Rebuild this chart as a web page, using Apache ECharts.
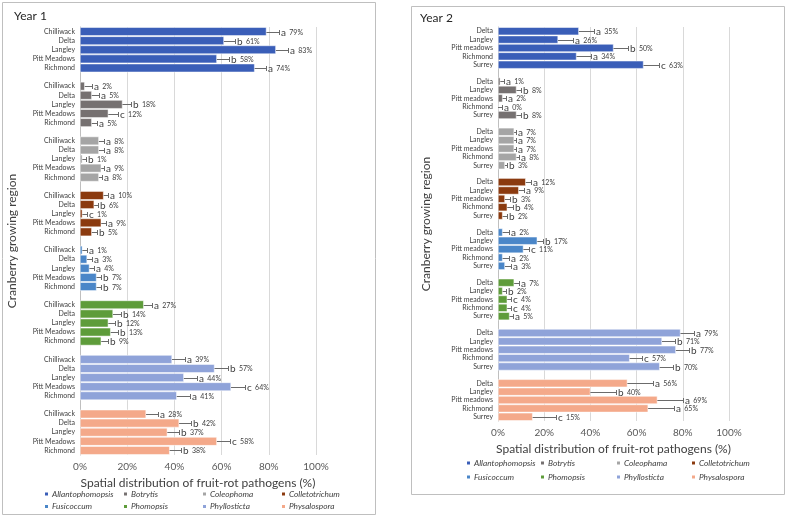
<!DOCTYPE html>
<html><head><meta charset="utf-8">
<script src="https://cdn.jsdelivr.net/npm/echarts@6/dist/echarts.min.js"></script>
<style>html,body{margin:0;padding:0;background:#fff}#c{width:787px;height:519px}</style>
</head><body><div id="c"></div>
<script>
// ---------- DATA ----------
const regionsY1 = ['Chilliwack', 'Delta', 'Langley', 'Pitt Meadows', 'Richmond'];
const regionsY2 = ['Delta', 'Langley', 'Pitt meadows', 'Richmond', 'Surrey'];
const pathogensY1 = ['Allantophomopsis', 'Botrytis', 'Coleophoma', 'Colletotrichum', 'Fusicoccum', 'Phomopsis', 'Phyllosticta', 'Physalospora'];
const pathogensY2 = ['Allantophomopsis', 'Botrytis', 'Coleophama', 'Colletotrichum', 'Fusicoccum', 'Phomopsis', 'Phyllosticta', 'Physalospora'];
const xTicks = [0, 20, 40, 60, 80, 100];

// Year 1 values (%), error (+), letters
const y1Values = [
  [79, 61, 83, 58, 74],
  [2, 5, 18, 12, 5],
  [8, 8, 1, 9, 8],
  [10, 6, 1, 9, 5],
  [1, 3, 4, 7, 7],
  [27, 14, 12, 13, 9],
  [39, 57, 44, 64, 41],
  [28, 42, 37, 58, 38]
];
const y1Errors = [
  [5.5, 4.7, 5, 5, 5],
  [3, 3, 3.5, 4, 2],
  [2, 2, 1.5, 1, 1.5],
  [1.7, 1.5, 2, 2, 2],
  [2, 2, 2, 1.7, 1.7],
  [3.5, 3.5, 3, 3, 3],
  [5.5, 5.5, 5.6, 5.8, 5.6],
  [5, 5, 5, 5.5, 5]
];
const y1Letters = [
  ['a', 'b', 'a', 'b', 'a'],
  ['a', 'a', 'b', 'c', 'a'],
  ['a', 'a', 'b', 'a', 'a'],
  ['a', 'b', 'c', 'a', 'b'],
  ['a', 'a', 'a', 'b', 'b'],
  ['a', 'b', 'b', 'b', 'b'],
  ['a', 'b', 'a', 'c', 'a'],
  ['a', 'b', 'b', 'c', 'b']
];

// Year 2 values (%), error (+), letters
const y2Values = [
  [35, 26, 50, 34, 63],
  [1, 8, 2, 0, 8],
  [7, 7, 7, 8, 3],
  [12, 9, 3, 4, 2],
  [2, 17, 11, 2, 3],
  [7, 2, 4, 4, 5],
  [79, 71, 77, 57, 70],
  [56, 40, 69, 65, 15]
];
const y2Errors = [
  [6.5, 6.5, 6.4, 6.4, 6.8],
  [1.6, 2, 1.5, 1.7, 2],
  [1, 1, 0.8, 0.9, 0.8],
  [2.3, 2.2, 2.3, 2.3, 1.9],
  [2.7, 2.6, 2.6, 2.7, 2.6],
  [2.3, 1.4, 1.7, 1.7, 1.7],
  [5.7, 5.6, 5.7, 5.4, 5.8],
  [11, 11, 11, 11, 10]
];
const y2Letters = [
  ['a', 'a', 'b', 'a', 'c'],
  ['a', 'b', 'a', 'a', 'b'],
  ['a', 'a', 'a', 'a', 'b'],
  ['a', 'a', 'b', 'b', 'b'],
  ['a', 'b', 'c', 'a', 'a'],
  ['a', 'b', 'c', 'c', 'a'],
  ['a', 'b', 'b', 'c', 'b'],
  ['a', 'b', 'a', 'a', 'c']
];

const colors = ['#3A5EB8', '#767171', '#A5A5A5', '#8B3A0F', '#4A86C8', '#5E9C3A', '#8FA3D9', '#F4A98A'];

// ---------- BUILD ----------
const FONT = 'Lato';
function buildCats(regions) {
  const cats = [];
  for (let g = 0; g < 8; g++) {
    regions.forEach(r => cats.push(r));
    if (g < 7) cats.push('');
  }
  return cats;
}
const catsY1 = buildCats(regionsY1);
const catsY2 = buildCats(regionsY2);

function barSeries(names, values, gi, stack) {
  return names.map((n, g) => {
    const d = new Array(47).fill('-');
    values[g].forEach((v, k) => { d[g * 6 + k] = v; });
    return {
      type: 'bar', name: n, stack: stack, xAxisIndex: gi, yAxisIndex: gi,
      data: d, barCategoryGap: '6%', itemStyle: { color: colors[g], borderColor: '#fff', borderWidth: 0.5 },
      silent: true
    };
  });
}
function errSeries(values, errors, letters, gi) {
  const data = [], labs = [];
  values.forEach((arr, g) => arr.forEach((v, k) => {
    data.push([v, g * 6 + k, errors[g][k]]);
    labs.push([letters[g][k], Math.round(v) + '%']);
  }));
  return {
    type: 'custom', xAxisIndex: gi, yAxisIndex: gi, silent: true, z: 5,
    encode: { x: 0, y: 1 },
    data: data,
    renderItem: function (params, api) {
      const v = api.value(0), c = api.value(1), e = api.value(2);
      const p0 = api.coord([v, c]), p1 = api.coord([v + e, c]);
      const y = Math.round(p0[1]) + 0.5;
      const xe = Math.round(p1[0]) + 0.5;
      const lab = labs[params.dataIndex];
      return {
        type: 'group', children: [
          { type: 'line', shape: { x1: p0[0], y1: y, x2: xe, y2: y }, style: { stroke: '#6b6b6b', lineWidth: 1 } },
          { type: 'line', shape: { x1: xe, y1: y - 2.5, x2: xe, y2: y + 2.5 }, style: { stroke: '#6b6b6b', lineWidth: 1 } },
          { type: 'text', x: xe + 1.5, y: y, style: {
              text: '{l|' + lab[0] + '} {p|' + lab[1] + '}', verticalAlign: 'middle', align: 'left',
              rich: { l: { fontSize: 10, fontFamily: FONT, fill: '#404040' }, p: { fontSize: 7, fontFamily: FONT, fill: '#404040' } }
          } }
        ]
      };
    }
  };
}

const grids = [
  { left: 80, width: 236, top: 27, height: 428 },
  { left: 498, width: 231, top: 27, height: 394 }
];
function xAxis(gi, gap) {
  return {
    type: 'value', gridIndex: gi, min: 0, max: 100, interval: 20,
    name: 'Spatial distribution of fruit-rot pathogens (%)', nameLocation: 'middle', nameGap: gap,
    nameTextStyle: { fontSize: 12, fontFamily: FONT, color: '#404040' },
    axisLabel: { formatter: v => xTicks.includes(v) ? v + '%' : '', fontSize: 10, fontFamily: FONT, color: '#595959', margin: 7 },
    axisLine: { show: false }, axisTick: { show: false },
    splitLine: { lineStyle: { color: '#d9d9d9', width: 1 } }
  };
}
function yAxis(gi, cats, gap) {
  return {
    type: 'category', gridIndex: gi, data: cats, inverse: true,
    name: 'Cranberry growing region', nameLocation: 'middle', nameGap: gap, nameRotate: 90,
    nameTextStyle: { fontSize: 12, fontFamily: FONT, color: '#404040' },
    axisLabel: { fontSize: 7, fontFamily: FONT, color: '#404040', margin: 5, interval: 0 },
    axisLine: { show: true, lineStyle: { color: '#bfbfbf' } }, axisTick: { show: false }
  };
}

function legends(names, cols, rows) {
  return names.map((n, i) => ({
    data: [n], left: cols[i % 4], top: rows[Math.floor(i / 4)], padding: 0,
    icon: 'rect', itemWidth: 5, itemHeight: 5, selectedMode: false,
    textStyle: { fontSize: 8.3, fontStyle: 'italic', fontFamily: FONT, color: '#404040', padding: [0, 0, 0, -2] }
  }));
}

const option = {
  animation: false,
  color: colors,
  title: [
    { text: 'Year 1', left: 14, top: 10, padding: 0, textStyle: { fontSize: 12, fontWeight: 'normal', fontFamily: FONT, color: '#262626' } },
    { text: 'Year 2', left: 420, top: 12, padding: 0, textStyle: { fontSize: 12, fontWeight: 'normal', fontFamily: FONT, color: '#262626' } }
  ],
  graphic: [
    { type: 'rect', shape: { x: 2.5, y: 2.5, width: 373, height: 512 }, style: { fill: 'none', stroke: '#bfbfbf', lineWidth: 1 }, silent: true },
    { type: 'rect', shape: { x: 411.5, y: 6.5, width: 373, height: 488 }, style: { fill: 'none', stroke: '#bfbfbf', lineWidth: 1 }, silent: true }
  ],
  legend: legends(pathogensY1, [43, 122, 201, 280], [490, 502.5]).concat(
          legends(pathogensY2, [465, 539, 615, 690], [459, 473])),
  grid: grids,
  xAxis: [xAxis(0, 22), xAxis(1, 22)],
  yAxis: [yAxis(0, catsY1, 62), yAxis(1, catsY2, 66)],
  series: [].concat(
    barSeries(pathogensY1, y1Values, 0, 'p1'),
    barSeries(pathogensY2, y2Values, 1, 'p2'),
    [errSeries(y1Values, y1Errors, y1Letters, 0), errSeries(y2Values, y2Errors, y2Letters, 1)]
  )
};
const chart = echarts.init(document.getElementById('c'), null, { renderer: 'canvas' });
chart.setOption(option);
</script></body></html>
